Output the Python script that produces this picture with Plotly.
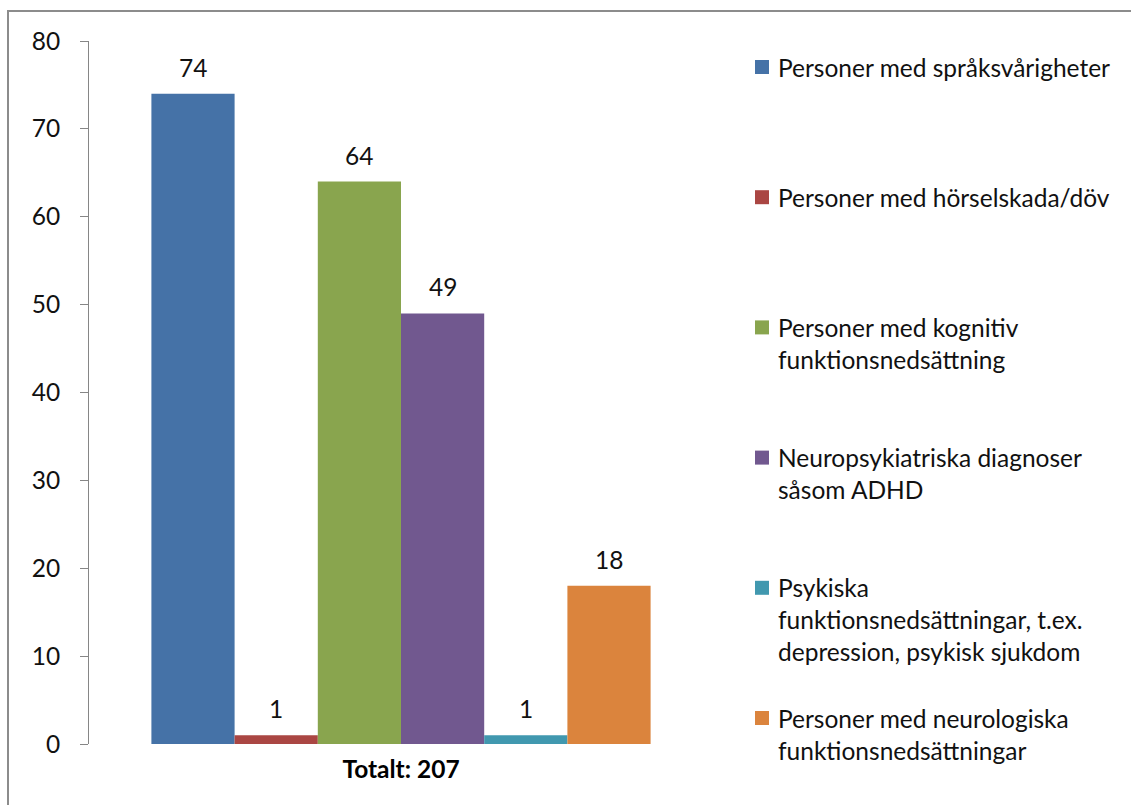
import plotly.graph_objects as go

# Data
category = "Totalt: 207"
series_names = [
    "Personer med språksvårigheter",
    "Personer med hörselskada/döv",
    "Personer med kognitiv<br>funktionsnedsättning",
    "Neuropsykiatriska diagnoser<br>såsom ADHD",
    "Psykiska<br>funktionsnedsättningar, t.ex.<br>depression, psykisk sjukdom",
    "Personer med neurologiska<br>funktionsnedsättningar",
]
values = [74, 1, 64, 49, 1, 18]
colors = ["#4572A7", "#AA4643", "#89A54E", "#71588F", "#4198AF", "#DB843D"]
y_ticks = [0, 10, 20, 30, 40, 50, 60, 70, 80]

W, H = 1131, 805
L, R, T, B = 89, 418, 41, 61
PW, PH = W - L - R, H - T - B
FONT = "Lato"
FS = 24.5
BARGAP = 0.2


def px_x(px):
    return (px - L) / PW


def px_y(py):
    return (H - B - py) / PH


fig = go.Figure()
for name, v, c in zip(series_names, values, colors):
    fig.add_trace(go.Bar(
        x=[category], y=[v], name=name.replace("<br>", " "),
        marker=dict(color=c, line=dict(width=0)),
        showlegend=False,
    ))

annotations = []
n = len(values)
slot = (1 - BARGAP) / n
for i, v in enumerate(values):
    annotations.append(dict(
        x=-(1 - BARGAP) / 2 + (i + 0.5) * slot, y=v, xref="x", yref="y",
        text=str(v), showarrow=False, yanchor="bottom", yshift=10,
        font=dict(family=FONT, size=FS, color="#111111"),
    ))

shapes = []
# Legend: colour key squares with wrapped labels, one entry every 130 px
entry_top = 67
entry_step = 130.2
line_step = 32
for i, (name, c) in enumerate(zip(series_names, colors)):
    cy = entry_top + i * entry_step
    shapes.append(dict(
        type="rect", xref="paper", yref="paper",
        x0=px_x(755), x1=px_x(769), y0=px_y(cy - 7), y1=px_y(cy + 7),
        fillcolor=c, line=dict(width=0),
    ))
    for j, line in enumerate(name.split("<br>")):
        annotations.append(dict(
            x=px_x(776), y=px_y(cy + j * line_step), xref="paper", yref="paper",
            text=line, showarrow=False, xanchor="left", yanchor="middle",
            font=dict(family=FONT, size=FS, color="#111111"),
        ))

# Outer chart frame
shapes.append(dict(
    type="rect", xref="paper", yref="paper", layer="below",
    x0=px_x(8), x1=px_x(1160), y0=px_y(830), y1=px_y(11),
    line=dict(color="#8c8c8c", width=2), fillcolor="rgba(0,0,0,0)",
))

fig.update_layout(
    width=W, height=H,
    margin=dict(l=L, r=R, t=T, b=B),
    paper_bgcolor="white", plot_bgcolor="white",
    barmode="group", bargap=BARGAP, bargroupgap=0,
    font=dict(family=FONT, size=FS, color="#111111"),
    xaxis=dict(
        showline=False, ticks="", showgrid=False, zeroline=False,
        tickfont=dict(family=FONT, size=FS, color="#000000", weight="bold"),
        ticklabelstandoff=8,
    ),
    yaxis=dict(
        range=[0, 80], tickvals=y_ticks, showgrid=False, zeroline=False,
        showline=True, linecolor="#868686", linewidth=1,
        ticks="outside", ticklen=8, tickcolor="#868686", tickwidth=1,
        tickfont=dict(family=FONT, size=FS, color="#111111"),
        ticklabelstandoff=15,
    ),
    annotations=annotations,
    shapes=shapes,
)

fig.write_html("out.html")
